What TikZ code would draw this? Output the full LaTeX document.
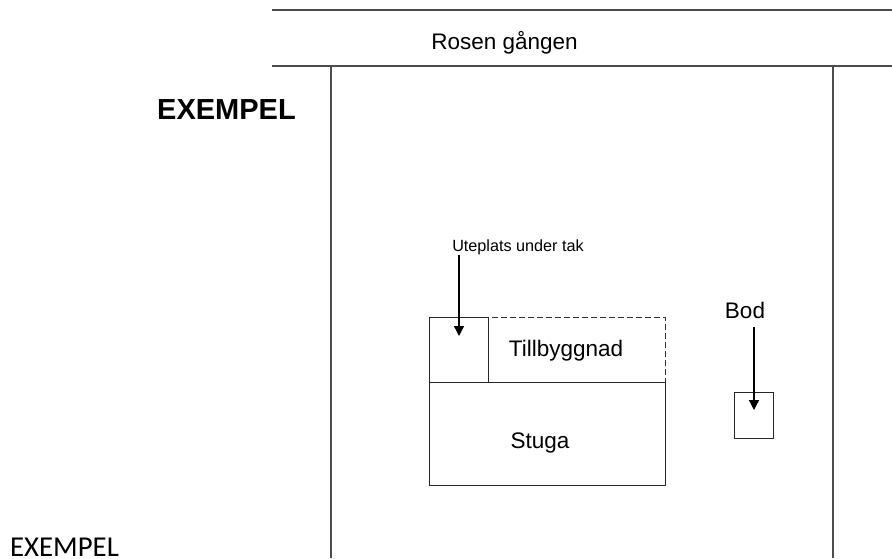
\documentclass[tikz,border=0pt]{standalone}
\usepackage{fontspec}
\setmainfont{Liberation Sans}
\newfontfamily\calibrilike{Carlito}
\usetikzlibrary{arrows.meta}
\tikzset{
  road/.style={draw=black!70,line width=1.2pt},
  wall/.style={draw=black!85,line width=0.95pt},
  dashwall/.style={draw=black!80,line width=0.95pt,dash pattern=on 5.5pt off 3.5pt},
  pointer/.style={draw=black,line width=1.3pt,-{Triangle[length=10pt,width=10pt]}},
  boxnode/.style={wall,inner sep=0pt,outer sep=0pt,anchor=north west},
  lbl/.style={inner sep=0pt,outer sep=0pt,anchor=base,text=black},
  mainlbl/.style={lbl,font=\fontsize{22.5}{23}\selectfont}
}
\begin{document}
\begin{tikzpicture}[x=1pt,y=-1pt]
\useasboundingbox (0,0) rectangle (892,558);
% road and plot
\coordinate (roadTopL) at (272,10);
\coordinate (roadTopR) at (892,10);
\coordinate (roadBotL) at (272,66);
\coordinate (roadBotR) at (892,66);
\coordinate (plotLT) at (331,66);
\coordinate (plotLB) at (331,558);
\coordinate (plotRT) at (833,66);
\coordinate (plotRB) at (833,558);
\draw[road] (roadTopL) -- (roadTopR);
\draw[road] (roadBotL) -- (roadBotR);
\draw[road] (plotLT) -- (plotLB);
\draw[road] (plotRT) -- (plotRB);
% buildings
\node[boxnode,minimum width=236pt,minimum height=103pt] (stuga) at (429,382) {};
\node[boxnode,minimum width=59pt,minimum height=65pt] (uteplats) at (429,317) {};
\node[boxnode,minimum width=39pt,minimum height=46pt] (bod) at (734,392) {};
\coordinate (dashStart) at (492,317);
\coordinate (dashEnd) at (665,317);
\draw[dashwall] (dashStart) -- (dashEnd) -- (stuga.north east);
% labels
\node[mainlbl] (rosen) at (504.5,49) {Rosen gången};
\node[lbl,font=\bfseries\fontsize{29}{29}\selectfont] (ex1) at (226.5,119) {EXEMPEL};
\node[lbl,font=\calibrilike\fontsize{28.8}{29}\selectfont] (ex2) at (64.5,556.5) {EXEMPEL};
\node[lbl,font=\fontsize{16.2}{17}\selectfont] (utelbl) at (518,251) {Uteplats under tak};
\node[mainlbl] (till) at (566,356) {Tillbyggnad};
\node[mainlbl] (stugalbl) at (540,448) {Stuga};
\node[mainlbl] (bodlbl) at (745,318) {Bod};
% pointers
\coordinate (p1s) at (459,255);
\coordinate (p1e) at (459,336);
\coordinate (p2s) at (754,327);
\coordinate (p2e) at (754,410);
\draw[pointer] (p1s) -- (p1e);
\draw[pointer] (p2s) -- (p2e);
\end{tikzpicture}
\end{document}
